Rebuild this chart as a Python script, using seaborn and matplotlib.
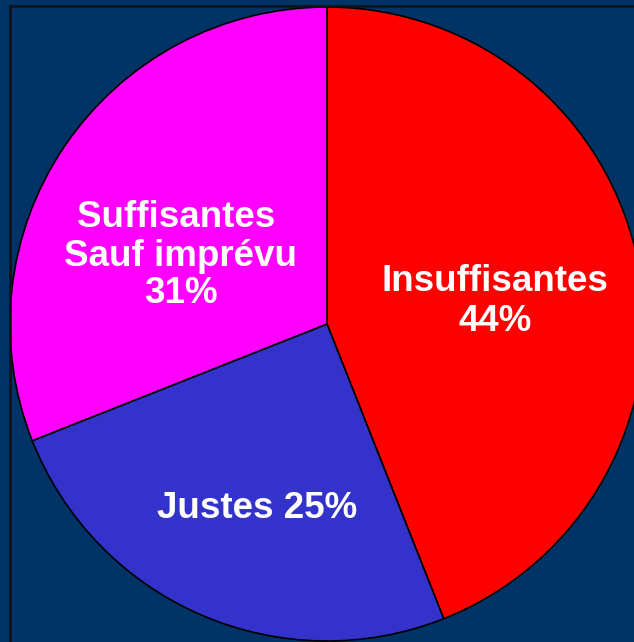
import matplotlib
matplotlib.use('Agg')
import matplotlib.pyplot as plt
import seaborn as sns

categories = ['Insuffisantes', 'Justes', 'Suffisantes Sauf imprévu']
values = [44, 25, 31]
colors = ['#FF0000', '#3333CC', '#FF00FF']

# label lines and their anchor (x, baseline y) in pixel-like data units
label_lines = ['Insuffisantes', '44%', 'Justes 25%', 'Suffisantes ', 'Sauf imprévu', '31%']
label_x = [494.5, 495, 257, 181, 181, 181]
label_y = [351, 311, 124, 415, 376, 339]

sns.set_style('white')
plt.rcParams['font.family'] = ['Liberation Sans', 'DejaVu Sans']

bg = '#003366'
fig = plt.figure(figsize=(6.34, 6.42), dpi=100, facecolor=bg)
ax = fig.add_axes([10 / 634, 0, 1, 636 / 642])
ax.set_facecolor(bg)

ax.pie(values, colors=colors, startangle=90, counterclock=False,
       center=(327, 318), radius=317, frame=True,
       wedgeprops=dict(edgecolor='black', linewidth=1.2))

for txt, x, y in zip(label_lines, label_x, label_y):
    ax.text(x, y, txt, ha='center', va='baseline', color='white',
            fontsize=26.5, fontweight='bold')

ax.set_xlim(10, 644)
ax.set_ylim(0, 636)
ax.set_aspect('auto')
ax.set_xticks([])
ax.set_yticks([])
for side in ['right', 'bottom']:
    ax.spines[side].set_visible(False)
for side in ['top', 'left']:
    ax.spines[side].set_visible(True)
    ax.spines[side].set_color('#111111')
    ax.spines[side].set_linewidth(1.8)

fig.savefig('out.png', dpi=100, facecolor=bg)
